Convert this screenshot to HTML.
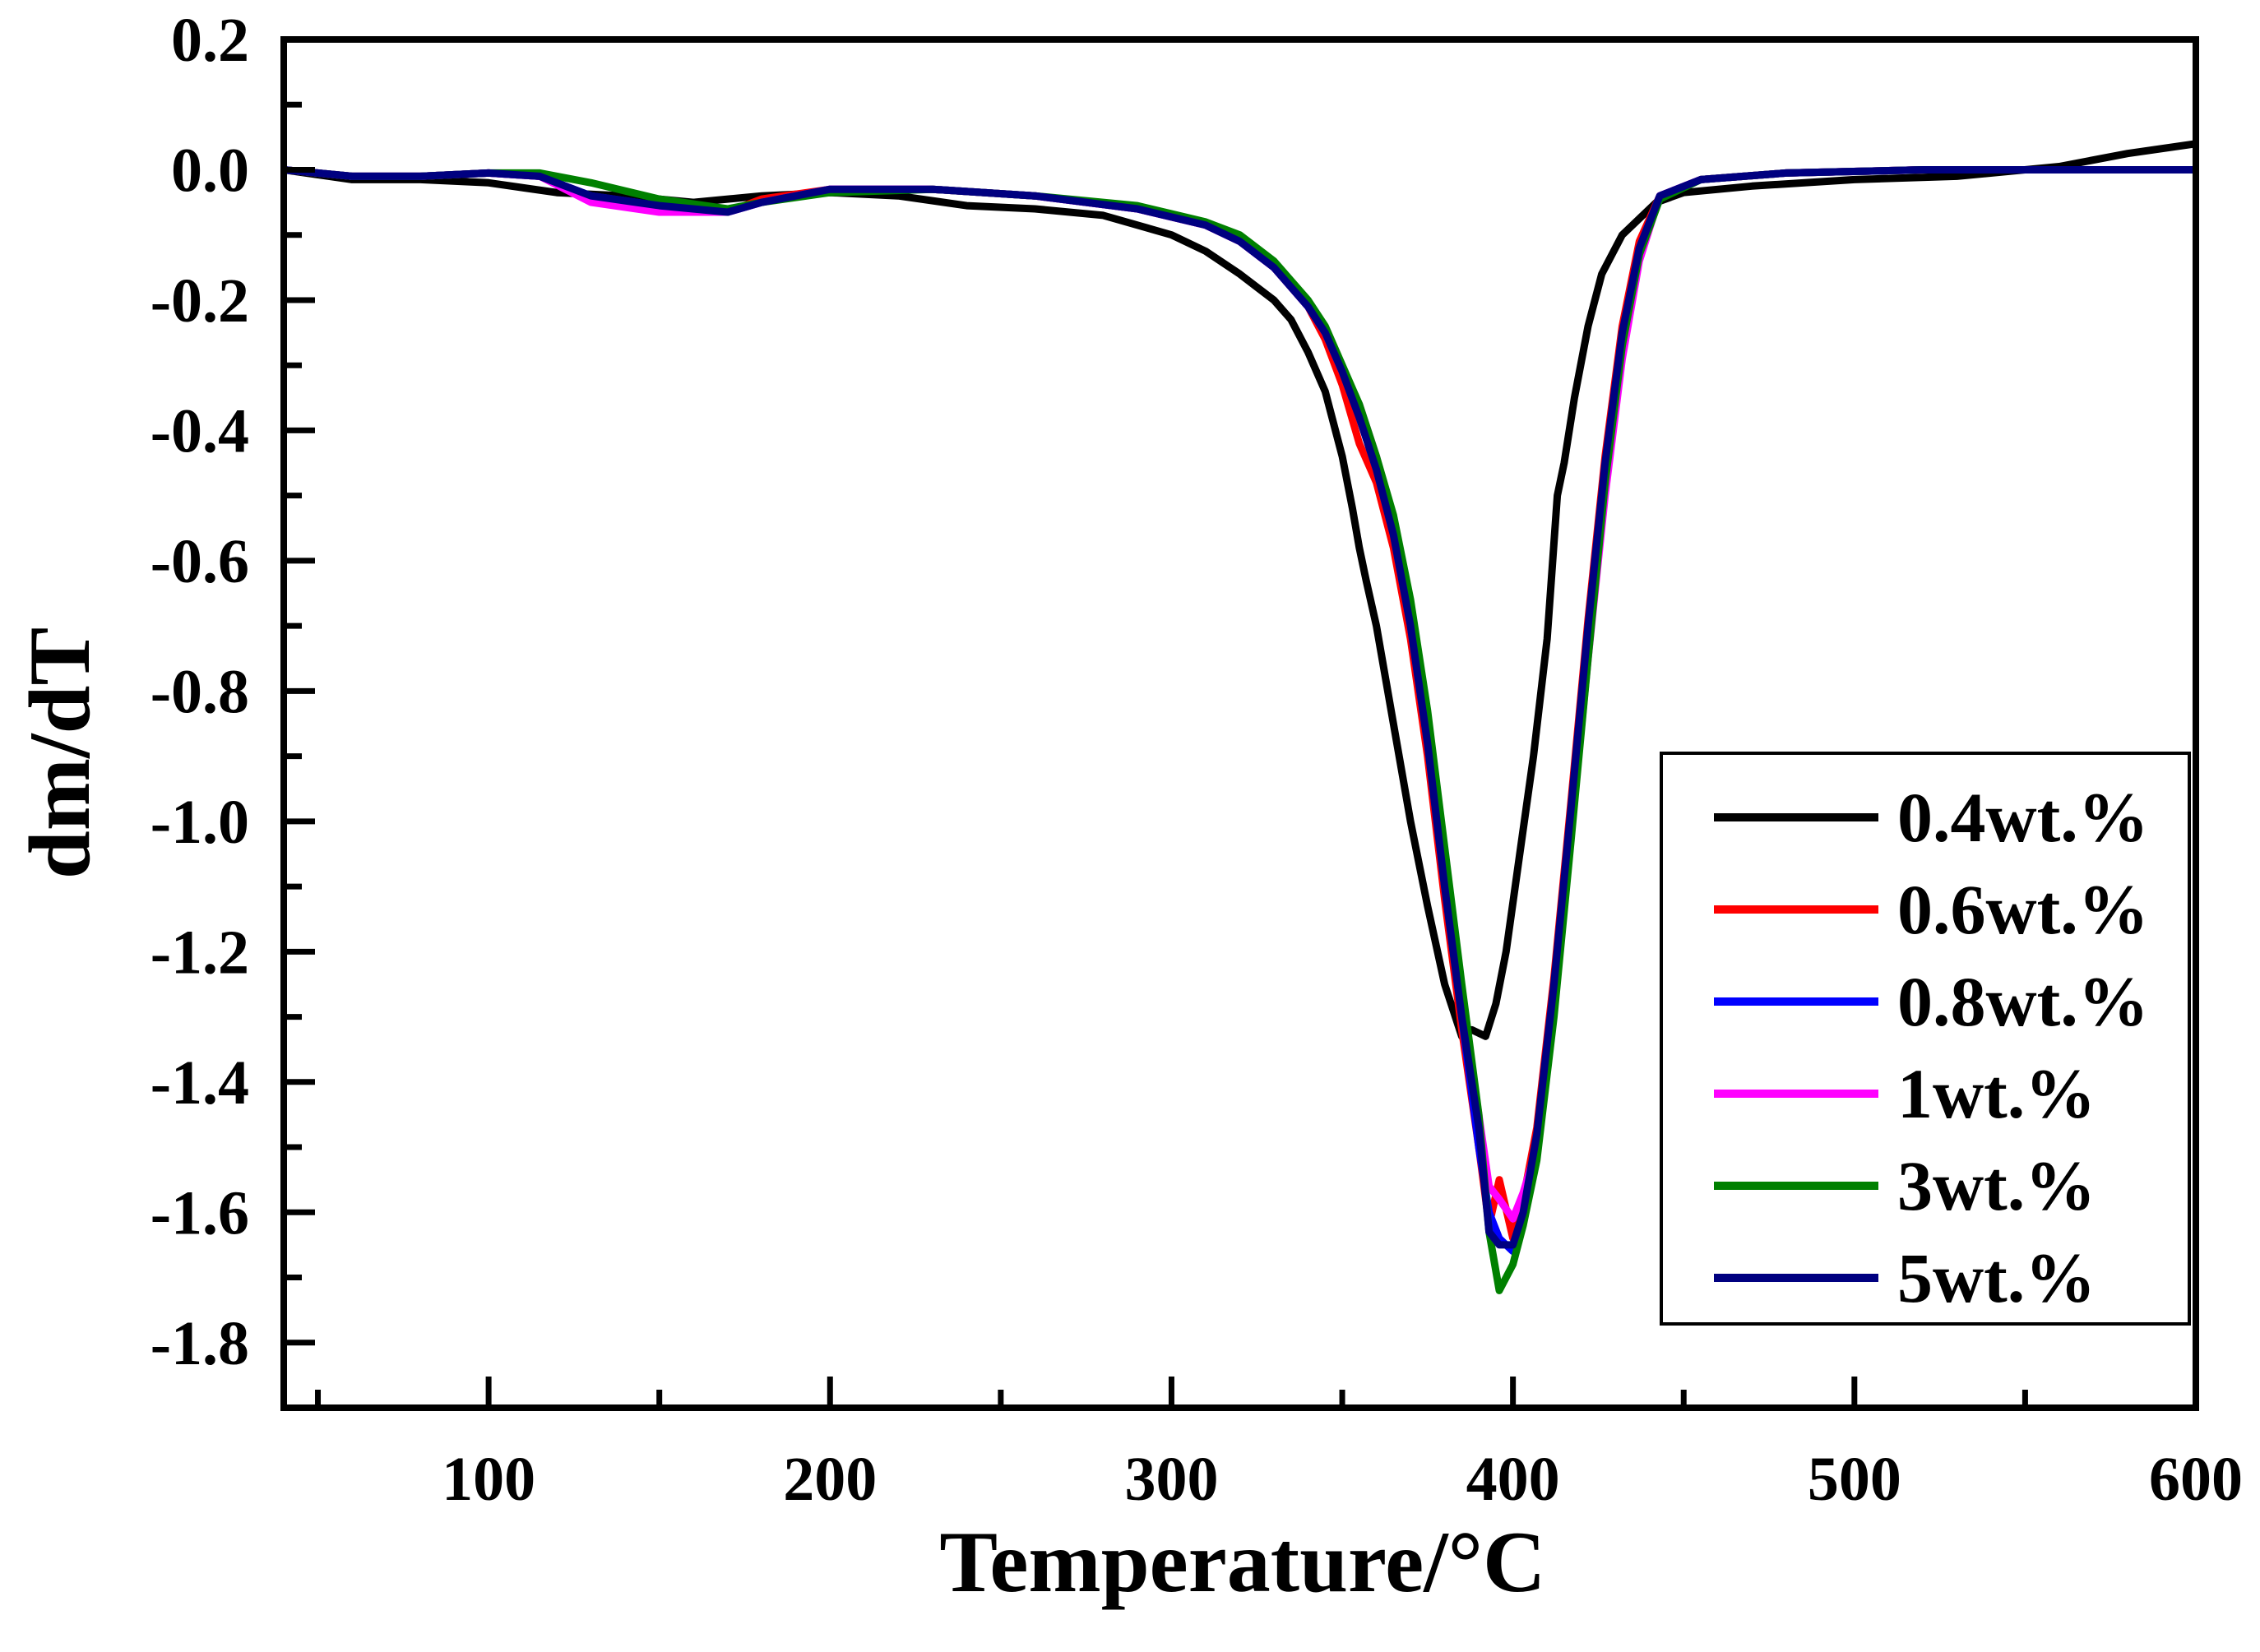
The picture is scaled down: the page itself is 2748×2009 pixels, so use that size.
<!DOCTYPE html>
<html><head><meta charset="utf-8">
<style>
html,body{margin:0;padding:0;background:#fff;}
svg{display:block;font-family:"Liberation Serif",serif;font-weight:bold;}
</style></head>
<body>
<svg id="chart" width="2748" height="2009" viewBox="0 0 2748 2009" xmlns="http://www.w3.org/2000/svg">
<g id="plot"></g>
</svg>
<script>
const xTickLabels = ["100","200","300","400","500","600"];
const yTickLabels = ["0.2","0.0","-0.2","-0.4","-0.6","-0.8","-1.0","-1.2","-1.4","-1.6","-1.8"];
const seriesNames = ["0.4wt.%","0.6wt.%","0.8wt.%","1wt.%","3wt.%","5wt.%"];
const seriesColors = ["#000000","#ff0000","#0000ff","#ff00ff","#008000","#000080"];

const blackX = [40,60,80,100,120,140,160,180,200,220,240,260,280,300,310,320,330,335,340,345,350,353,355,357,360,365,370,375,380,385,388,392,395,398,402,406,410,413,415,418,422,426,432,437,442,450,470,500,530,560,580,600];
const blackY = [0,-0.015,-0.015,-0.02,-0.035,-0.04,-0.05,-0.04,-0.035,-0.04,-0.055,-0.06,-0.07,-0.1,-0.125,-0.16,-0.2,-0.23,-0.28,-0.34,-0.44,-0.52,-0.58,-0.63,-0.7,-0.85,-1.0,-1.13,-1.25,-1.33,-1.32,-1.33,-1.28,-1.2,-1.05,-0.9,-0.72,-0.5,-0.45,-0.35,-0.24,-0.16,-0.1,-0.075,-0.05,-0.035,-0.025,-0.015,-0.01,0.005,0.025,0.04];

const commonX = [40,60,80,100,115,130,150,170,180,200,230,260,290,310,320,330,340,345,350,355,360,365,370,375,380,385,390,393,396,400,403,407,412,417,422,427,432,437,443,455,480,520,560,600];
const redY   = [0,-0.01,-0.01,-0.005,-0.01,-0.045,-0.06,-0.065,-0.045,-0.03,-0.03,-0.04,-0.06,-0.085,-0.11,-0.15,-0.21,-0.26,-0.33,-0.42,-0.48,-0.58,-0.72,-0.9,-1.12,-1.32,-1.5,-1.62,-1.55,-1.64,-1.58,-1.47,-1.24,-0.97,-0.69,-0.44,-0.24,-0.11,-0.04,-0.015,-0.005,0,0,0];
const blueY  = [0,-0.01,-0.01,-0.005,-0.01,-0.04,-0.055,-0.065,-0.05,-0.03,-0.03,-0.04,-0.06,-0.085,-0.11,-0.15,-0.21,-0.25,-0.31,-0.38,-0.46,-0.56,-0.7,-0.88,-1.1,-1.3,-1.5,-1.6,-1.64,-1.66,-1.61,-1.5,-1.27,-1.0,-0.72,-0.47,-0.26,-0.12,-0.04,-0.015,-0.005,0,0,0];
const pinkY  = [0,-0.01,-0.01,-0.005,-0.01,-0.05,-0.065,-0.065,-0.05,-0.03,-0.03,-0.04,-0.06,-0.085,-0.11,-0.15,-0.21,-0.25,-0.31,-0.36,-0.44,-0.55,-0.69,-0.87,-1.08,-1.28,-1.45,-1.56,-1.58,-1.61,-1.57,-1.5,-1.28,-1.02,-0.75,-0.5,-0.29,-0.14,-0.04,-0.015,-0.005,0,0,0];
const greenY = [0,-0.01,-0.01,-0.005,-0.005,-0.02,-0.045,-0.06,-0.05,-0.035,-0.03,-0.04,-0.055,-0.08,-0.1,-0.14,-0.2,-0.24,-0.3,-0.36,-0.44,-0.53,-0.66,-0.83,-1.04,-1.25,-1.45,-1.63,-1.72,-1.68,-1.62,-1.52,-1.3,-1.03,-0.75,-0.48,-0.27,-0.13,-0.045,-0.015,-0.005,0,0,0];
const navyY  = [0,-0.01,-0.01,-0.005,-0.01,-0.04,-0.055,-0.065,-0.05,-0.03,-0.03,-0.04,-0.06,-0.085,-0.11,-0.15,-0.21,-0.25,-0.31,-0.38,-0.46,-0.56,-0.7,-0.88,-1.1,-1.3,-1.47,-1.63,-1.65,-1.65,-1.6,-1.48,-1.25,-0.98,-0.7,-0.45,-0.25,-0.12,-0.04,-0.015,-0.005,0,0,0];

const NS="http://www.w3.org/2000/svg";
const L=345,R=2670,T=48,B=1712;
const XMIN=40,XMAX=600,YMIN=-1.9,YMAX=0.2;
function sx(v){return L+(v-XMIN)/(XMAX-XMIN)*(R-L);}
function sy(v){return T+(YMAX-v)/(YMAX-YMIN)*(B-T);}
const svg=document.getElementById('plot');
function mk(tag,attrs){const e=document.createElementNS(NS,tag);for(const k in attrs)e.setAttribute(k,attrs[k]);svg.appendChild(e);return e;}

const allX=[blackX,commonX,commonX,commonX,commonX,commonX];
const allY=[blackY,redY,blueY,pinkY,greenY,navyY];
for(let s=0;s<allY.length;s++){
  let d='';
  for(let i=0;i<allY[s].length;i++){d+=(i?'L':'M')+sx(allX[s][i]).toFixed(1)+','+sy(allY[s][i]).toFixed(1);}
  const p=mk('path',{d:d,fill:'none',stroke:seriesColors[s],'stroke-width':9,'stroke-linejoin':'round'});
  
  
}

const fr=mk('rect',{x:L,y:T,width:R-L,height:B-T,fill:'none',stroke:'#000','stroke-width':8});



for(let v=50;v<=600;v+=50){
  const major=v%100===0;
  const t=mk('line',{x1:sx(v),x2:sx(v),y1:B,y2:B-(major?38:22),stroke:'#000','stroke-width':7});
  
  
}
for(let i=0;i<xTickLabels.length;i++){
  const v=parseFloat(xTickLabels[i]);
  const t=mk('text',{x:sx(v),y:1824,'text-anchor':'middle','font-size':76});
  t.textContent=xTickLabels[i];
  
  
}
for(let k=0;k<=20;k++){
  const v=0.2-k*0.1;
  const major=k%2===0;
  const t=mk('line',{x1:L,x2:L+(major?38:22),y1:sy(v),y2:sy(v),stroke:'#000','stroke-width':7});
  
  
}
for(let i=0;i<yTickLabels.length;i++){
  const v=parseFloat(yTickLabels[i]);
  const t=mk('text',{x:303,y:sy(v)+26,'text-anchor':'end','font-size':76});
  t.textContent=yTickLabels[i];
  
  
}
const xt=mk('text',{x:1511,y:1935,'text-anchor':'middle','font-size':106});
xt.textContent='Temperature/°C';


const yt=mk('text',{x:0,y:0,'text-anchor':'middle','font-size':106,transform:'translate(108,916) rotate(-90)'});
yt.textContent='dm/dT';



const lg=mk('rect',{x:2020,y:916,width:642,height:694,fill:'#fff',stroke:'#000','stroke-width':4});


for(let i=0;i<seriesNames.length;i++){
  const y=994+i*112;
  const ln=mk('line',{x1:2084,x2:2284,y1:y,y2:y,stroke:seriesColors[i],'stroke-width':10});
  
  
  const tx=mk('text',{x:2307,y:y+29,'font-size':86});
  tx.textContent=seriesNames[i];
  
  
}
</script>
</body></html>
